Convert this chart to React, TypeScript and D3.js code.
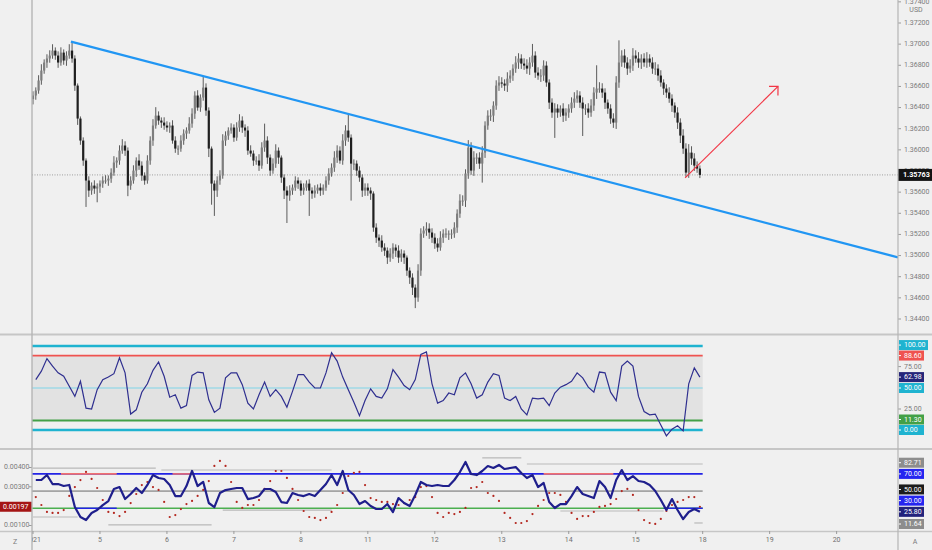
import React from 'react';
import * as d3 from 'd3';

const W = 932;
const H = 550;
const PIP = 0.0001;

// day labels on the time axis (24 hourly bars per day)
const dayLabels = ['2021', '5', '6', '7', '8', '11', '12', '13', '14', '15', '18', '19', '20'];

// hourly closes, Jan 4 .. Jan 15
const closes = [
  1.36514, 1.36561, 1.36656, 1.36750, 1.36826, 1.36864, 1.36892, 1.36939, 1.36892, 1.36826, 1.36920, 1.36845, 1.36892, 1.36939, 1.36864, 1.36608, 1.36296, 1.36088, 1.35899, 1.35710, 1.35615, 1.35662, 1.35634, 1.35653,
  1.35681, 1.35710, 1.35710, 1.35728, 1.35785, 1.35880, 1.35899, 1.35993, 1.36041, 1.35993, 1.35662, 1.35710, 1.35804, 1.35899, 1.35851, 1.35757, 1.35710, 1.35899, 1.36088, 1.36230, 1.36324, 1.36277, 1.36258, 1.36230,
  1.36211, 1.36230, 1.36088, 1.36012, 1.36012, 1.36088, 1.36154, 1.36183, 1.36249, 1.36343, 1.36514, 1.36400, 1.36495, 1.36589, 1.36372, 1.36012, 1.35681, 1.35615, 1.35710, 1.35757, 1.36088, 1.36135, 1.36183, 1.36211,
  1.36116, 1.36211, 1.36277, 1.36211, 1.36183, 1.35993, 1.35965, 1.35899, 1.35899, 1.35851, 1.36022, 1.36088, 1.35927, 1.35804, 1.35870, 1.35993, 1.35927, 1.35738, 1.35615, 1.35568, 1.35615, 1.35643, 1.35710, 1.35681,
  1.35615, 1.35643, 1.35681, 1.35615, 1.35587, 1.35615, 1.35643, 1.35615, 1.35643, 1.35710, 1.35776, 1.35832, 1.35927, 1.35993, 1.35899, 1.36088, 1.36183, 1.36116, 1.35870, 1.35870, 1.35804, 1.35738, 1.35615, 1.35643,
  1.35615, 1.35587, 1.35265, 1.35170, 1.35142, 1.35076, 1.35047, 1.34981, 1.35019, 1.35076, 1.35047, 1.34981, 1.35019, 1.34981, 1.34858, 1.34792, 1.34697, 1.34603, 1.34858, 1.35208, 1.35237, 1.35255, 1.35218, 1.35170,
  1.35114, 1.35076, 1.35170, 1.35208, 1.35208, 1.35208, 1.35208, 1.35265, 1.35397, 1.35520, 1.35520, 1.35776, 1.36022, 1.35804, 1.35927, 1.35927, 1.35870, 1.35974, 1.36230, 1.36324, 1.36324, 1.36419, 1.36608, 1.36637,
  1.36627, 1.36608, 1.36674, 1.36703, 1.36769, 1.36826, 1.36864, 1.36816, 1.36797, 1.36769, 1.36826, 1.36892, 1.36731, 1.36703, 1.36703, 1.36797, 1.36637, 1.36447, 1.36353, 1.36391, 1.36353, 1.36391, 1.36324, 1.36353,
  1.36391, 1.36447, 1.36485, 1.36514, 1.36447, 1.36391, 1.36391, 1.36353, 1.36419, 1.36542, 1.36580, 1.36580, 1.36542, 1.36447, 1.36391, 1.36296, 1.36258, 1.36637, 1.36826, 1.36892, 1.36826, 1.36769, 1.36797, 1.36892,
  1.36864, 1.36826, 1.36864, 1.36826, 1.36864, 1.36826, 1.36769, 1.36769, 1.36703, 1.36637, 1.36580, 1.36542, 1.36485, 1.36419, 1.36353, 1.36258, 1.36135, 1.36012, 1.35785, 1.35974, 1.35918, 1.35851, 1.35823, 1.35763,
];
const firstOpen = 1.3648;

// upper / lower wick length of each bar, in pips
const wickHi = [
  4, 3, 5, 6, 3, 4, 5, 6, 3, 4, 5, 3, 4, 6, 9, 3, 2, 2, 3, 2, 4, 3, 5, 3,
  3, 4, 5, 3, 4, 6, 3, 5, 6, 4, 3, 4, 5, 3, 6, 4, 3, 5, 4, 6, 8, 4, 3, 5,
  4, 3, 5, 4, 3, 5, 4, 3, 6, 5, 4, 5, 3, 10, 4, 3, 2, 3, 4, 5, 6, 4, 3, 4,
  3, 5, 6, 4, 3, 4, 5, 3, 4, 6, 5, 16, 4, 3, 5, 6, 3, 2, 3, 4, 5, 3, 4, 3,
  3, 4, 3, 4, 3, 5, 3, 4, 3, 4, 5, 4, 6, 5, 4, 6, 5, 16, 3, 4, 3, 4, 3, 4,
  4, 3, 2, 4, 3, 5, 4, 3, 5, 4, 3, 5, 4, 3, 2, 3, 4, 3, 6, 5, 4, 6, 5, 4,
  4, 5, 6, 4, 5, 3, 4, 5, 4, 6, 5, 4, 7, 5, 6, 4, 5, 6, 4, 5, 6, 4, 5, 6,
  5, 4, 6, 5, 4, 6, 5, 4, 5, 6, 5, 11, 4, 5, 6, 5, 4, 3, 4, 5, 4, 3, 5, 4,
  4, 5, 6, 5, 4, 5, 4, 5, 6, 5, 22, 6, 5, 4, 3, 4, 5, 6, 21, 5, 6, 5, 6, 7,
  5, 6, 4, 5, 6, 4, 5, 6, 4, 5, 3, 4, 5, 4, 3, 5, 4, 6, 5, 8, 6, 5, 4, 3,
];
const wickLo = [
  5, 4, 3, 4, 3, 5, 4, 3, 4, 5, 3, 4, 5, 3, 4, 5, 6, 4, 5, 25, 6, 4, 5, 13,
  6, 4, 3, 5, 4, 3, 5, 4, 3, 5, 10, 4, 3, 6, 4, 5, 4, 3, 4, 5, 3, 4, 5, 4,
  4, 5, 3, 4, 6, 3, 4, 5, 3, 4, 5, 3, 4, 3, 5, 8, 20, 24, 6, 4, 3, 5, 4, 3,
  4, 3, 4, 5, 6, 4, 3, 5, 4, 5, 3, 4, 6, 5, 3, 4, 6, 5, 8, 26, 5, 4, 3, 5,
  5, 4, 3, 24, 5, 4, 3, 5, 4, 3, 4, 3, 4, 5, 3, 4, 5, 4, 35, 6, 5, 4, 6, 5,
  5, 6, 4, 5, 6, 4, 5, 6, 4, 5, 6, 5, 4, 6, 5, 6, 7, 10, 4, 5, 4, 5, 6, 5,
  5, 4, 3, 5, 4, 6, 5, 4, 5, 4, 5, 6, 5, 4, 5, 6, 5, 18, 5, 4, 5, 6, 4, 5,
  4, 5, 6, 4, 5, 4, 6, 5, 4, 5, 6, 4, 5, 4, 6, 5, 4, 6, 5, 24, 5, 4, 6, 5,
  5, 4, 5, 4, 5, 26, 6, 5, 4, 5, 6, 4, 5, 6, 5, 5, 5, 6, 5, 4, 5, 6, 4, 5,
  4, 5, 6, 4, 5, 4, 5, 6, 5, 4, 6, 5, 4, 6, 5, 6, 7, 5, 4, 5, 6, 5, 4, 3,
];

// trend line anchors [bar, price] and the red arrow
const trendA = [13.6, 1.37024];
const trendB = [112.5, 1.36343];
const arrowFrom = [233.7, 1.35735];
const arrowTo = [267, 1.366];
const lastPrice = 1.35763;
const priceTicks = d3.range(0, 16).map((k) => 1.344 + k * 0.002);

// RSI-like oscillator, one value every 2 bars
const rsi = [
  60, 70, 85, 76, 68, 64, 52, 40, 58, 26,
  25, 48, 60, 63, 67, 86, 68, 19, 24, 45,
  55, 71, 81, 64, 39, 42, 26, 29, 65, 69,
  68, 36, 21, 26, 62, 68, 68, 54, 32, 25,
  42, 57, 40, 48, 40, 27, 46, 66, 66, 57,
  50, 50, 68, 92, 82, 63, 48, 33, 17, 35,
  49, 40, 38, 49, 72, 63, 53, 48, 60, 90,
  93, 55, 32, 35, 44, 42, 62, 68, 55, 38,
  42, 57, 67, 65, 38, 35, 40, 25, 18, 38,
  37, 38, 29, 44, 51, 54, 58, 68, 62, 51,
  45, 69, 68, 45, 35, 76, 82, 76, 40, 22,
  18, 19, 6, -7, 1, 5, -1, 55, 74, 62.98,
];
const rsiLevels = [100, 88.6, 50, 11.3, 0];
const rsiLabels = ['100.00', '88.60', '75.00', '62.98', '50.00', '25.00', '11.30', '0.00'];
const rsiLabelValues = [100, 88.6, 75, 62.98, 50, 25, 11.3, 0];
const rsiLabelColors = ['#1fb3d0', '#ef5350', '', '#26267a', '#1fb3d0', '', '#43a047', '#1fb3d0'];

// bottom pane: thick line (right scale) and red dots (left scale), one value every 2 bars
const osc = [
  62.9, 62.9, 68.7, 58.2, 58.2, 55.9, 57.1, 31.4, 19.8, 16.3,
  24.4, 27.9, 33.7, 38.4, 52.4, 54.7, 40.7, 46.6, 53.6, 47.7,
  57.1, 68.7, 65.2, 64.1, 57.1, 44.2, 44.2, 55.9, 73.4, 55.9,
  60.6, 36.1, 31.4, 47.7, 51.2, 52.4, 53.6, 53.6, 40.7, 41.9,
  44.2, 52.4, 52.4, 48.9, 37.2, 36.1, 47.7, 45.4, 44.2, 46.6,
  44.2, 51.2, 58.2, 68.7, 57.1, 73.4, 51.2, 45.4, 34.9, 38.4,
  32.6, 29.1, 29.1, 34.9, 25.6, 41.9, 36.1, 32.6, 45.4, 60.6,
  57.1, 55.9, 57.1, 55.9, 55.9, 62.9, 72.2, 83.9, 69.9, 68.7,
  73.4, 79.2, 76.9, 80.4, 75.7, 76.9, 78.0, 71.0, 65.2, 68.7,
  54.7, 59.4, 37.2, 30.3, 34.9, 34.9, 44.2, 54.7, 46.6, 44.2,
  41.9, 61.7, 54.7, 41.9, 62.9, 74.5, 62.9, 67.5, 61.7, 60.6,
  57.1, 50.1, 39.6, 27.9, 40.7, 27.9, 17.4, 25.6, 29.1, 25.8,
];
const dots = [
  0.00247, 0.00206, 0.00170, 0.00165, 0.00165, 0.00180, 0.00253, 0.00299, 0.00335, 0.00377,
  0.00341, 0.00294, 0.00232, 0.00170, 0.00165, 0.00149, 0.00170, 0.00216, 0.00263, 0.00309,
  0.00325, 0.00299, 0.00284, 0.00222, 0.00144, 0.00154, 0.00185, 0.00211, 0.00227, 0.00253,
  0.00284, 0.00330, 0.00408, 0.00434, 0.00408, 0.00325, 0.00222, 0.00191, 0.00206, 0.00206,
  0.00232, 0.00289, 0.00330, 0.00382, 0.00382, 0.00346, 0.00289, 0.00232, 0.00175, 0.00144,
  0.00139, 0.00128, 0.00139, 0.00170, 0.00206, 0.00268, 0.00356, 0.00372, 0.00377, 0.00309,
  0.00242, 0.00232, 0.00222, 0.00222, 0.00211, 0.00206, 0.00216, 0.00232, 0.00247, 0.00299,
  0.00304, 0.00247, 0.00165, 0.00144, 0.00165, 0.00159, 0.00170, 0.00191, 0.00294, 0.00299,
  0.00325, 0.00268, 0.00253, 0.00227, 0.00165, 0.00139, 0.00113, 0.00113, 0.00123, 0.00159,
  0.00201, 0.00232, 0.00268, 0.00268, 0.00258, 0.00222, 0.00165, 0.00134, 0.00149, 0.00149,
  0.00170, 0.00196, 0.00201, 0.00211, 0.00237, 0.00278, 0.00289, 0.00258, 0.00180, 0.00128,
  0.00113, 0.00108, 0.00134, 0.00175, 0.00206, 0.00222, 0.00232, 0.00247, 0.00247, 0.00197,
];
// step levels of the dots [fromBar, toBar, value]
const dotHighSteps = [[0, 44, 0.00397], [46, 107, 0.00387], [161, 175, 0.0045], [177, 240, 0.00418]];
const dotLowSteps = [[0, 16, 0.00144], [27, 64, 0.00103], [68, 107, 0.0018], [189, 226, 0.00175], [237, 240, 0.00113]];
// level lines and their recoloured stretches [fromBar, toBar]
const upperLevel = 70;
const midLevel = 50;
const lowerLevel = 30;
const upperRed = [[10, 30], [50, 57], [183, 208]];
const lowerBlue = [[15, 30], [226, 240]];
const oscLabels = ['82.71', '70.00', '50.00', '30.00', '25.80', '11.64'];
const oscLabelValues = [82.71, 70, 50, 30, 25.8, 11.64];
const oscLabelColors = ['#8d8d8d', '#2525f0', '#1c1c1c', '#2525f0', '#23237c', '#8d8d8d'];
const leftTicks = [0.004, 0.003, 0.001];
const lastDot = 0.00197;

const FONT = 'Roboto, "Liberation Sans", sans-serif';
const PL = 32;
const PR = 898;

function spread(ys: number[], gap: number) {
  // push labels upward so the boxes do not overlap (bottom one stays)
  const order = ys.map((y, i) => i).sort((a, b) => ys[b] - ys[a]);
  const out = ys.slice();
  let prev = Infinity;
  order.forEach((i) => {
    out[i] = Math.min(ys[i], prev - gap);
    prev = out[i];
  });
  return out;
}

export default function App() {
  const x = d3.scaleLinear().domain([0, 310]).range([33, 898]);
  const yP = d3.scaleLinear().domain([1.344, 1.372]).range([319, 23]);
  const yR = d3.scaleLinear().domain([0, 100]).range([430, 346]);
  const yO = d3.scaleLinear().domain([11.64, 82.71]).range([524, 463]);
  const yL = d3.scaleLinear().domain([0.001, 0.004]).range([525.5, 467.5]);
  const end = x(240);

  const bars = closes.map((c, i) => {
    const o = i === 0 ? firstOpen : closes[i - 1];
    return { i, o, c, h: Math.max(o, c) + wickHi[i] * PIP, l: Math.min(o, c) - wickLo[i] * PIP };
  });

  const slope = (trendB[1] - trendA[1]) / (trendB[0] - trendA[0]);
  const trendEnd = trendA[1] + slope * (310 - trendA[0]);

  const ax1 = x(arrowFrom[0]), ay1 = yP(arrowFrom[1]);
  const ax2 = x(arrowTo[0]), ay2 = yP(arrowTo[1]);
  const back = Math.atan2(ay1 - ay2, ax1 - ax2);
  const head = [back - Math.PI / 4, back + Math.PI / 4].map((a) => [ax2 + 9 * Math.cos(a), ay2 + 9 * Math.sin(a)]);

  const rsiLine = d3.line<number>().x((_, k) => x(2 * k + 1)).y((v) => yR(v))(rsi) || '';
  const oscLine = d3.line<number>().x((_, k) => x(2 * k + 1)).y((v) => yO(v))(osc) || '';

  const rsiLabelY = spread(rsiLabelValues.map((v) => yR(v)), 10.5);
  const oscLabelY = spread(oscLabelValues.map((v) => yO(v)), 11.2);

  const txt = { fontFamily: FONT, fontSize: 7, fill: '#7b7b7b' } as const;

  return (
    <svg width={W} height={H} style={{ position: 'absolute', left: 0, top: 0, background: '#f0f0f0' }}>
      <defs>
        <clipPath id="cMain"><rect x={PL} y={0} width={PR - PL} height={333} /></clipPath>
        <clipPath id="cRsi"><rect x={PL} y={336} width={PR - PL} height={112} /></clipPath>
        <clipPath id="cOsc"><rect x={PL} y={450} width={PR - PL} height={81} /></clipPath>
        <clipPath id="cTime"><rect x={PL} y={531} width={PR - PL} height={19} /></clipPath>
      </defs>
      <rect width={W} height={H} fill="#f0f0f0" />

      {/* main pane */}
      <g clipPath="url(#cMain)">
        <line x1={PL} x2={PR} y1={yP(lastPrice)} y2={yP(lastPrice)} stroke="#8a8a8a" strokeWidth={0.8} strokeDasharray="1 1.5" />
        {bars.map((b) => (
          <g key={b.i}>
            <line x1={x(b.i)} x2={x(b.i)} y1={yP(b.h)} y2={yP(b.l)} stroke="#4a4a4a" strokeWidth={0.9} />
            <rect
              x={x(b.i) - 1.1}
              width={2.2}
              y={yP(Math.max(b.o, b.c))}
              height={Math.max(1, yP(Math.min(b.o, b.c)) - yP(Math.max(b.o, b.c)))}
              fill={b.c >= b.o ? '#7e7e7e' : '#1f1f1f'}
            />
          </g>
        ))}
        <line x1={x(trendA[0])} y1={yP(trendA[1])} x2={x(310)} y2={yP(trendEnd)} stroke="#2196f3" strokeWidth={2.3} />
        <line x1={ax1} y1={ay1} x2={ax2} y2={ay2} stroke="#f23645" strokeWidth={1.2} />
        <polyline points={`${head[0][0]},${head[0][1]} ${ax2},${ay2} ${head[1][0]},${head[1][1]}`} fill="none" stroke="#f23645" strokeWidth={1.2} />
      </g>

      {/* price axis */}
      {priceTicks.map((p) => (
        <g key={p}>
          <line x1={PR} x2={PR + 3} y1={yP(p)} y2={yP(p)} stroke="#9a9a9a" />
          <text x={PR + 6} y={yP(p)} dominantBaseline="middle" {...txt}>{p.toFixed(5)}</text>
        </g>
      ))}
      <text x={916} y={12} textAnchor="middle" {...txt}>USD</text>
      <rect x={PR} y={yP(lastPrice) - 6} width={34} height={12} fill="#131313" />
      <text x={PR + 5} y={yP(lastPrice) + 0.5} dominantBaseline="middle" fontFamily={FONT} fontSize={7.2} fontWeight="bold" fill="#fff">{lastPrice.toFixed(5)}</text>

      {/* RSI pane */}
      <g clipPath="url(#cRsi)">
        <rect x={PL} width={end - PL} y={yR(rsiLevels[1])} height={yR(rsiLevels[3]) - yR(rsiLevels[1])} fill="#e2e2e2" />
        <line x1={PL} x2={end} y1={yR(rsiLevels[0])} y2={yR(rsiLevels[0])} stroke="#1fb3d0" strokeWidth={2.6} />
        <line x1={PL} x2={end} y1={yR(rsiLevels[4])} y2={yR(rsiLevels[4])} stroke="#1fb3d0" strokeWidth={2.6} />
        <line x1={PL} x2={end} y1={yR(rsiLevels[1])} y2={yR(rsiLevels[1])} stroke="#ef5350" strokeWidth={1.8} />
        <line x1={PL} x2={end} y1={yR(rsiLevels[3])} y2={yR(rsiLevels[3])} stroke="#43a047" strokeWidth={1.8} />
        <line x1={PL} x2={end} y1={yR(rsiLevels[2])} y2={yR(rsiLevels[2])} stroke="#7fd4e8" strokeWidth={1} />
        <path d={rsiLine} fill="none" stroke="#2f2f8f" strokeWidth={1.2} />
      </g>
      {rsiLabels.map((t, k) => (
        <g key={t}>
          {rsiLabelColors[k] ? (
            <rect x={PR + 1} y={rsiLabelY[k] - 5} width={t.length > 5 ? 29 : 25} height={10} fill={rsiLabelColors[k]} />
          ) : null}
          <line x1={PR} x2={PR + 3} y1={rsiLabelY[k]} y2={rsiLabelY[k]} stroke={rsiLabelColors[k] ? '#fff' : '#9a9a9a'} />
          <text x={PR + 6} y={rsiLabelY[k] + 0.5} dominantBaseline="middle" {...txt} fill={rsiLabelColors[k] ? '#fff' : '#7b7b7b'}>{t}</text>
        </g>
      ))}

      {/* bottom pane */}
      <g clipPath="url(#cOsc)">
        {dotHighSteps.concat(dotLowSteps).map((s, k) => (
          <line key={k} x1={x(s[0])} x2={x(s[1])} y1={yL(s[2])} y2={yL(s[2])} stroke="#b9b9b9" strokeWidth={1.2} />
        ))}
        <line x1={PL} x2={end} y1={yO(midLevel)} y2={yO(midLevel)} stroke="#6b6b6b" strokeWidth={1} />
        <line x1={PL} x2={end} y1={yO(upperLevel)} y2={yO(upperLevel)} stroke="#2323e6" strokeWidth={1.6} />
        {upperRed.map((s, k) => (
          <line key={k} x1={x(s[0])} x2={x(s[1])} y1={yO(upperLevel)} y2={yO(upperLevel)} stroke="#f07070" strokeWidth={1.6} />
        ))}
        <line x1={PL} x2={end} y1={yO(lowerLevel)} y2={yO(lowerLevel)} stroke="#4caf50" strokeWidth={1.6} />
        {lowerBlue.map((s, k) => (
          <line key={k} x1={x(s[0])} x2={x(s[1])} y1={yO(lowerLevel)} y2={yO(lowerLevel)} stroke="#2323e6" strokeWidth={1.6} />
        ))}
        {dots.map((v, k) => (
          <circle key={k} cx={x(2 * k + 1)} cy={yL(v)} r={1.1} fill="#b3261e" />
        ))}
        <path d={oscLine} fill="none" stroke="#1f1f8c" strokeWidth={2.2} strokeLinejoin="round" />
      </g>
      {oscLabels.map((t, k) => (
        <g key={t}>
          <rect x={PR + 1} y={oscLabelY[k] - 5} width={25} height={10} fill={oscLabelColors[k]} />
          <line x1={PR} x2={PR + 3} y1={oscLabelY[k]} y2={oscLabelY[k]} stroke="#fff" />
          <text x={PR + 6} y={oscLabelY[k] + 0.5} dominantBaseline="middle" {...txt} fill="#fff">{t}</text>
        </g>
      ))}
      {leftTicks.map((v) => (
        <g key={v}>
          <line x1={PL - 3} x2={PL} y1={yL(v)} y2={yL(v)} stroke="#9a9a9a" />
          <text x={4} y={yL(v)} dominantBaseline="middle" {...txt}>{v.toFixed(5)}</text>
        </g>
      ))}
      <rect x={0} y={yL(lastDot) - 5} width={PL} height={10} fill="#a51515" />
      <text x={3} y={yL(lastDot) + 0.5} dominantBaseline="middle" {...txt} fill="#fff">{lastDot.toFixed(5)}</text>

      {/* pane separators and axis borders */}
      <line x1={0} x2={W} y1={334.5} y2={334.5} stroke="#c6c6c6" strokeWidth={2} />
      <line x1={0} x2={W} y1={449} y2={449} stroke="#c6c6c6" strokeWidth={2} />
      <line x1={0} x2={W} y1={531.5} y2={531.5} stroke="#c6c6c6" strokeWidth={1.5} />
      <line x1={PL} x2={PL} y1={0} y2={H} stroke="#b5b5b5" strokeWidth={1.4} />
      <line x1={PR} x2={PR} y1={0} y2={H} stroke="#b5b5b5" strokeWidth={1.2} />

      {/* time axis */}
      <g clipPath="url(#cTime)">
        {dayLabels.map((d, k) => (
          <g key={d}>
            <line x1={x(k * 24)} x2={x(k * 24)} y1={531} y2={534} stroke="#9a9a9a" />
            <text x={x(k * 24)} y={540} textAnchor="middle" dominantBaseline="middle" {...txt} fill="#6f6f6f">{d}</text>
          </g>
        ))}
      </g>
      <text x={15} y={542} textAnchor="middle" dominantBaseline="middle" {...txt}>Z</text>
      <text x={915} y={542} textAnchor="middle" dominantBaseline="middle" {...txt}>A</text>
    </svg>
  );
}
